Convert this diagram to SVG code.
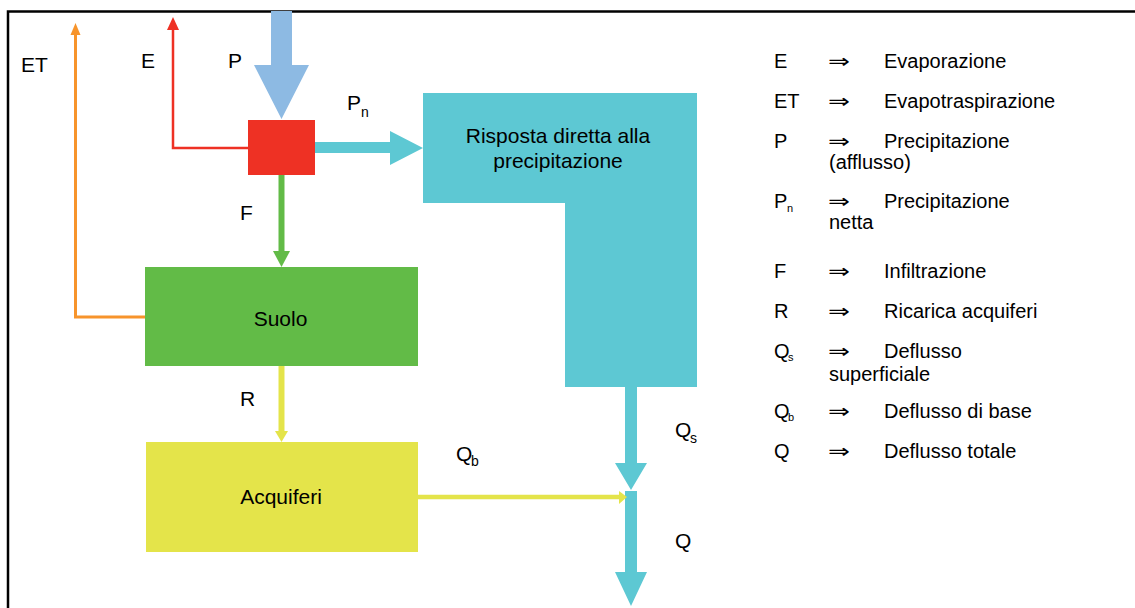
<svg xmlns="http://www.w3.org/2000/svg" width="1135" height="608" viewBox="0 0 1135 608">
<style>
.t{font-family:"Liberation Sans",Arial,sans-serif;font-size:21px;fill:#000}
.s{font-family:"Liberation Sans",Arial,sans-serif;font-size:14px;fill:#000}
.ls{font-family:"Liberation Sans",Arial,sans-serif;font-size:11px;fill:#000}
.n{font-family:"Liberation Sans",Arial,sans-serif;font-size:20px;fill:#000}
.a{font-family:"Liberation Sans","DejaVu Sans",sans-serif;font-size:20px;fill:#000}
</style>
<rect x="0" y="0" width="1135" height="608" fill="#fff"/>
<path d="M8,608 V11.5 H1135" fill="none" stroke="#000" stroke-width="2.5"/>

<g id="connectors">
  <!-- P -->
  <polygon points="271,11 292,11 292,65 309,65 281.5,119 254,65 271,65" fill="#8DBAE3"/>
  <!-- E -->
  <polyline points="248,148 173,148 173,28" fill="none" stroke="#EE3124" stroke-width="2.5"/>
  <polygon points="173,17 179,30 167,30" fill="#EE3124"/>
  <!-- ET -->
  <polyline points="145,317 75.5,317 75.5,32" fill="none" stroke="#F7942B" stroke-width="3"/>
  <polygon points="75.5,23 80.5,35 70.5,35" fill="#F7942B"/>
  <!-- Pn -->
  <polygon points="315,142 390,142 390,131 423,148 390,165 390,153 315,153" fill="#5DC8D3"/>
  <!-- F -->
  <line x1="281.5" y1="175" x2="281.5" y2="253" stroke="#62BB47" stroke-width="6"/>
  <polygon points="273,251 290,251 281.5,267" fill="#62BB47"/>
  <!-- R -->
  <line x1="281.5" y1="366" x2="281.5" y2="433" stroke="#E4E44A" stroke-width="6"/>
  <polygon points="275,431 288,431 281.5,442" fill="#E4E44A"/>
  <!-- Qs -->
  <polygon points="625,387 637,387 637,463 647,463 631,490 615,463 625,463" fill="#5DC8D3"/>
  <!-- Q -->
  <polygon points="625,491 637,491 637,572 647,572 631,606 615,572 625,572" fill="#5DC8D3"/>
  <!-- Qb -->
  <line x1="417" y1="497" x2="620" y2="497" stroke="#E4E44A" stroke-width="4.5"/>
  <polygon points="619,491 627,497 619,504" fill="#E4E44A"/>
</g>

<g id="node-red">
  <rect x="248" y="120" width="67" height="55" fill="#EE3124"/>
</g>
<g id="node-risposta">
  <polygon points="423,93 697,93 697,387 565,387 565,203 423,203" fill="#5DC8D3"/>
  <text class="t" x="558" y="143" text-anchor="middle">Risposta diretta alla</text>
  <text class="t" x="558" y="168" text-anchor="middle">precipitazione</text>
</g>
<g id="node-suolo">
  <rect x="145" y="267" width="273" height="99" fill="#62BB47"/>
  <text class="t" x="280.5" y="326" text-anchor="middle">Suolo</text>
</g>
<g id="node-acquiferi">
  <rect x="146" y="442" width="272" height="110" fill="#E4E44A"/>
  <text class="t" x="281" y="504" text-anchor="middle">Acquiferi</text>
</g>

<g id="labels">
  <text class="t" x="21" y="72">ET</text>
  <text class="t" x="141" y="68">E</text>
  <text class="t" x="228" y="68">P</text>
  <text class="t" x="347" y="110">P</text>
  <text class="s" x="361" y="117">n</text>
  <text class="t" x="456" y="461">Q</text>
  <text class="s" x="471" y="466">b</text>
  <text class="t" x="675" y="437">Q</text>
  <text class="s" x="690" y="443">s</text>
  <text class="t" x="675" y="548">Q</text>
  <text class="t" x="240" y="220">F</text>
  <text class="t" x="240" y="406">R</text>
</g>

<g id="legend">
  <text class="n" x="774" y="68">E</text>
  <text class="a" x="828" y="68" textLength="22" lengthAdjust="spacingAndGlyphs">⇒</text>
  <text class="n" x="884" y="68">Evaporazione</text>

  <text class="n" x="774" y="108">ET</text>
  <text class="a" x="828" y="108" textLength="22" lengthAdjust="spacingAndGlyphs">⇒</text>
  <text class="n" x="884" y="108">Evapotraspirazione</text>

  <text class="n" x="774" y="148">P</text>
  <text class="a" x="828" y="148" textLength="22" lengthAdjust="spacingAndGlyphs">⇒</text>
  <text class="n" x="884" y="148">Precipitazione</text>
  <text class="n" x="829" y="169">(afflusso)</text>

  <text class="n" x="774" y="208">P</text>
  <text class="ls" x="787" y="212">n</text>
  <text class="a" x="828" y="208" textLength="22" lengthAdjust="spacingAndGlyphs">⇒</text>
  <text class="n" x="884" y="208">Precipitazione</text>
  <text class="n" x="829" y="229">netta</text>

  <text class="n" x="774" y="278">F</text>
  <text class="a" x="828" y="278" textLength="22" lengthAdjust="spacingAndGlyphs">⇒</text>
  <text class="n" x="884" y="278">Infiltrazione</text>

  <text class="n" x="774" y="318">R</text>
  <text class="a" x="828" y="318" textLength="22" lengthAdjust="spacingAndGlyphs">⇒</text>
  <text class="n" x="884" y="318">Ricarica acquiferi</text>

  <text class="n" x="774" y="358">Q</text>
  <text class="ls" x="788" y="361">s</text>
  <text class="a" x="828" y="358" textLength="22" lengthAdjust="spacingAndGlyphs">⇒</text>
  <text class="n" x="884" y="358">Deflusso</text>
  <text class="n" x="829" y="381">superficiale</text>

  <text class="n" x="774" y="418">Q</text>
  <text class="ls" x="788" y="421">b</text>
  <text class="a" x="828" y="418" textLength="22" lengthAdjust="spacingAndGlyphs">⇒</text>
  <text class="n" x="884" y="418">Deflusso di base</text>

  <text class="n" x="774" y="458">Q</text>
  <text class="a" x="828" y="458" textLength="22" lengthAdjust="spacingAndGlyphs">⇒</text>
  <text class="n" x="884" y="458">Deflusso totale</text>
</g>
</svg>
